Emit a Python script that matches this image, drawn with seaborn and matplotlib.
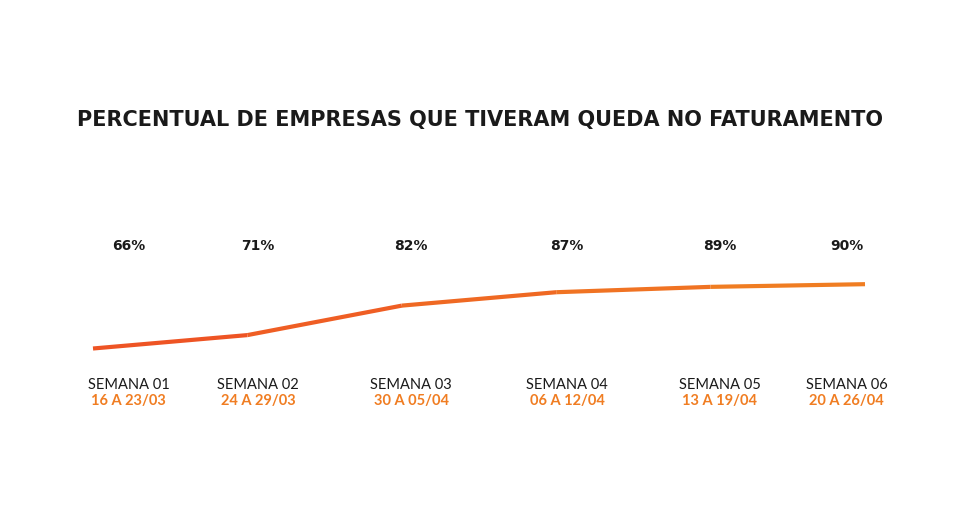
import matplotlib
matplotlib.use("Agg")
import matplotlib.pyplot as plt
import seaborn as sns
import numpy as np
from matplotlib.colors import to_rgb

# dados do gráfico
semanas = ["SEMANA 01", "SEMANA 02", "SEMANA 03", "SEMANA 04", "SEMANA 05", "SEMANA 06"]
periodos = ["16 A 23/03", "24 A 29/03", "30 A 05/04", "06 A 12/04", "13 A 19/04", "20 A 26/04"]
percentual = [66, 71, 82, 87, 89, 90]

sns.set_theme(style="white")
plt.rcParams["font.family"] = ["Lato", "DejaVu Sans"]

fig = plt.figure(figsize=(9.6, 5.21), dpi=100)
ax = fig.add_axes([0, 0, 1, 1])

xs = np.arange(len(percentual))

# linha com gradiente (vermelho-laranja -> laranja)
c0 = np.array(to_rgb("#EE5424"))
c1 = np.array(to_rgb("#F07D22"))
for i in range(len(xs) - 1):
    t = i / (len(xs) - 2)
    cor = c0 + (c1 - c0) * t
    sns.lineplot(x=xs[i:i + 2], y=percentual[i:i + 2], color=cor, linewidth=3,
                 ax=ax, solid_capstyle="butt")

# escala em pixels: 93..865 em x, 66->348px e ~2.68px por ponto em y
ax.set_xlim(-93 / 154.4, (960 - 93) / 154.4)
ax.set_ylim(66 - (521 - 348.5) / 2.68, 66 + 348.5 / 2.68)
ax.axis("off")

# rótulos ficam um pouco para dentro nas pontas
desloc = [0.23, 0.07, 0.06, 0.07, 0.06, -0.12]

trans = ax.get_xaxis_transform()
for x, d, v, s, p in zip(xs, desloc, percentual, semanas, periodos):
    ax.text(x + d, 1 - 246 / 521, f"{v}%", transform=trans, ha="center", va="center",
            fontsize=10, fontweight="bold", color="#1a1a1a", family="DejaVu Sans")
    ax.text(x + d, 1 - 385 / 521, s, transform=trans, ha="center", va="center",
            fontsize=10.5, color="#1a1a1a")
    ax.text(x + d, 1 - 401 / 521, p, transform=trans, ha="center", va="center",
            fontsize=10.5, fontweight="bold", color="#F07D22")

fig.text(0.5, 1 - 120 / 521, "PERCENTUAL DE EMPRESAS QUE TIVERAM QUEDA NO FATURAMENTO",
         ha="center", va="center", fontsize=15, fontweight="bold", color="#1a1a1a",
         family="DejaVu Sans")

fig.savefig("out.png", dpi=100, facecolor="white")
